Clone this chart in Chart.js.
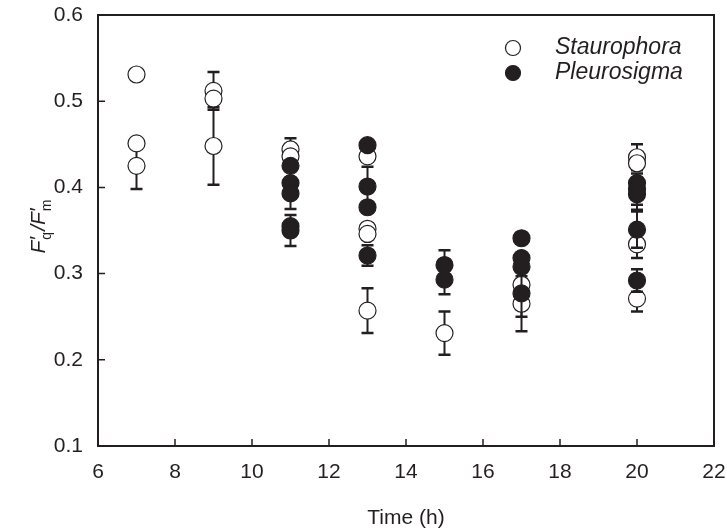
<!DOCTYPE html>
<html><head><meta charset="utf-8">
<script src="https://cdn.jsdelivr.net/npm/chart.js@4/dist/chart.umd.min.js"></script>
<style>html,body{margin:0;padding:0;background:#fff}</style>
</head><body>
<canvas id="c" width="727" height="529"></canvas>
<script>
// ---- data ----
const xTicks = [6, 8, 10, 12, 14, 16, 18, 20, 22];
const yTicks = [0.1, 0.2, 0.3, 0.4, 0.5, 0.6];
const seriesNames = ['Staurophora', 'Pleurosigma'];

const stauTime  = [7, 7, 7, 9, 9, 9, 11, 11, 13, 13, 13, 13, 15, 17, 17, 20, 20, 20, 20];
const stauValue = [0.531, 0.451, 0.425, 0.512, 0.503, 0.448, 0.444, 0.436, 0.436, 0.352, 0.346, 0.257, 0.231, 0.287, 0.265, 0.435, 0.428, 0.334, 0.271];
const stauError = [0, 0, 0.027, 0.022, 0, 0.045, 0.013, 0, 0, 0, 0, 0.026, 0.025, 0, 0.032, 0.015, 0, 0.016, 0.015];

const pleuTime  = [11, 11, 11, 11, 11, 13, 13, 13, 13, 15, 15, 17, 17, 17, 17, 20, 20, 20, 20, 20];
const pleuValue = [0.425, 0.405, 0.393, 0.355, 0.350, 0.449, 0.401, 0.377, 0.321, 0.310, 0.293, 0.341, 0.318, 0.308, 0.277, 0.405, 0.398, 0.392, 0.351, 0.292];
const pleuError = [0, 0, 0.018, 0, 0.018, 0, 0.023, 0, 0.012, 0.017, 0.017, 0.006, 0, 0, 0.027, 0, 0.018, 0.018, 0.021, 0.013];

// ---- build ----
const INK = '#231f20';
const FONT = '"Liberation Sans", Arial, sans-serif';
const toPts = (xs, ys, es) => xs.map((x, i) => ({x: x, y: ys[i], e: es[i]}));

const errorBars = {
  id: 'errorBars',
  beforeDatasetDraw(chart, args) {
    const ds = chart.data.datasets[args.index];
    const ys = chart.scales.y, xs = chart.scales.x, ctx = chart.ctx;
    ctx.save();
    ctx.strokeStyle = INK;
    ds.data.forEach(p => {
      if (!p.e) return;
      const px = xs.getPixelForValue(p.x);
      const top = ys.getPixelForValue(p.y + p.e);
      const bot = ys.getPixelForValue(p.y - p.e);
      ctx.lineWidth = 2;
      ctx.beginPath(); ctx.moveTo(px, top); ctx.lineTo(px, bot); ctx.stroke();
      ctx.lineWidth = 2.5;
      ctx.beginPath();
      ctx.moveTo(px - 6, top); ctx.lineTo(px + 6, top);
      ctx.moveTo(px - 6, bot); ctx.lineTo(px + 6, bot);
      ctx.stroke();
    });
    ctx.restore();
  }
};

const frame = {
  id: 'frame',
  afterDraw(chart) {
    const {ctx, chartArea: a, scales} = chart;
    ctx.save();
    ctx.strokeStyle = INK;
    ctx.lineWidth = 2;
    ctx.strokeRect(a.left, a.top, a.right - a.left, a.bottom - a.top);
    ctx.lineWidth = 1.5;
    ctx.beginPath();
    xTicks.forEach(v => {
      const px = scales.x.getPixelForValue(v);
      ctx.moveTo(px, a.bottom); ctx.lineTo(px, a.bottom - 7);
    });
    yTicks.forEach(v => {
      const py = scales.y.getPixelForValue(v);
      ctx.moveTo(a.left, py); ctx.lineTo(a.left + 7, py);
    });
    ctx.stroke();

    // x title
    ctx.fillStyle = INK;
    ctx.font = '21px ' + FONT;
    ctx.textAlign = 'center';
    ctx.textBaseline = 'middle';
    ctx.fillText('Time (h)', (a.left + a.right) / 2, 518);

    // y title  F'q / F'm
    ctx.save();
    ctx.translate(37, 226);
    ctx.rotate(-Math.PI / 2);
    ctx.textAlign = 'left';
    ctx.textBaseline = 'alphabetic';
    const big = 'italic 21px ' + FONT, small = '14px ' + FONT, prime = '21px ' + FONT;
    const parts = [
      {t: 'F', f: big, dy: 0},
      {t: '\u2032', f: prime, dy: -1, stack: 'q'},
      {t: '/', f: big, dy: 0},
      {t: 'F', f: big, dy: 0},
      {t: '\u2032', f: prime, dy: -1, stack: 'm'}
    ];
    let total = 0;
    const widths = parts.map(p => {
      ctx.font = p.f; let w = ctx.measureText(p.t).width;
      if (p.stack) { ctx.font = small; w = Math.max(w, ctx.measureText(p.stack).width) + 2; }
      total += w; return w;
    });
    let cx = -total / 2;
    const base = 8;
    parts.forEach((p, i) => {
      ctx.font = p.f;
      ctx.fillText(p.t, cx + (p.stack ? 1 : 0), base + p.dy);
      if (p.stack) { ctx.font = small; ctx.fillText(p.stack, cx + 1, base + 6); }
      cx += widths[i];
    });
    ctx.restore();

    // legend
    const lx = 513, ly = [48, 73];
    chart.data.datasets.forEach((ds, i) => {
      ctx.beginPath();
      ctx.arc(lx, ly[i], 7.5, 0, Math.PI * 2);
      ctx.fillStyle = ds.backgroundColor;
      ctx.fill();
      ctx.lineWidth = 1.2; ctx.strokeStyle = INK; ctx.stroke();
      ctx.fillStyle = INK;
      ctx.font = 'italic 23px ' + FONT;
      ctx.textAlign = 'left'; ctx.textBaseline = 'middle';
      ctx.fillText(ds.label, 555, ly[i]);
    });
    ctx.restore();
  }
};

new Chart(document.getElementById('c'), {
  type: 'scatter',
  data: {
    datasets: [
      { label: seriesNames[0], data: toPts(stauTime, stauValue, stauError), order: 2,
        backgroundColor: '#ffffff', borderColor: INK, borderWidth: 1.2, pointRadius: 8.5, pointHoverRadius: 8.5 },
      { label: seriesNames[1], data: toPts(pleuTime, pleuValue, pleuError), order: 1,
        backgroundColor: INK, borderColor: INK, borderWidth: 1.2, pointRadius: 8.5, pointHoverRadius: 8.5 }
    ]
  },
  options: {
    responsive: false, animation: false, devicePixelRatio: 1,
    layout: { padding: { top: 15, right: 13, left: 0, bottom: 0 } },
    plugins: { legend: { display: false }, tooltip: { enabled: false } },
    scales: {
      x: { type: 'linear', min: 6, max: 22,
        afterBuildTicks: s => { s.ticks = xTicks.map(v => ({value: v})); },
        afterFit: s => { s.height = 83; s.paddingLeft = 0; s.paddingRight = 0; },
        grid: { display: false, drawTicks: false }, border: { display: false },
        ticks: { color: INK, font: { family: FONT, size: 21 }, padding: 14, maxRotation: 0 } },
      y: { min: 0.1, max: 0.6,
        afterBuildTicks: s => { s.ticks = yTicks.map(v => ({value: v})); },
        afterFit: s => { s.width = 98; s.paddingTop = 0; s.paddingBottom = 0; },
        grid: { display: false, drawTicks: false }, border: { display: false },
        ticks: { color: INK, font: { family: FONT, size: 21 }, padding: 15, callback: v => v.toFixed(1) } }
    }
  },
  plugins: [errorBars, frame]
});
</script>
</body></html>
